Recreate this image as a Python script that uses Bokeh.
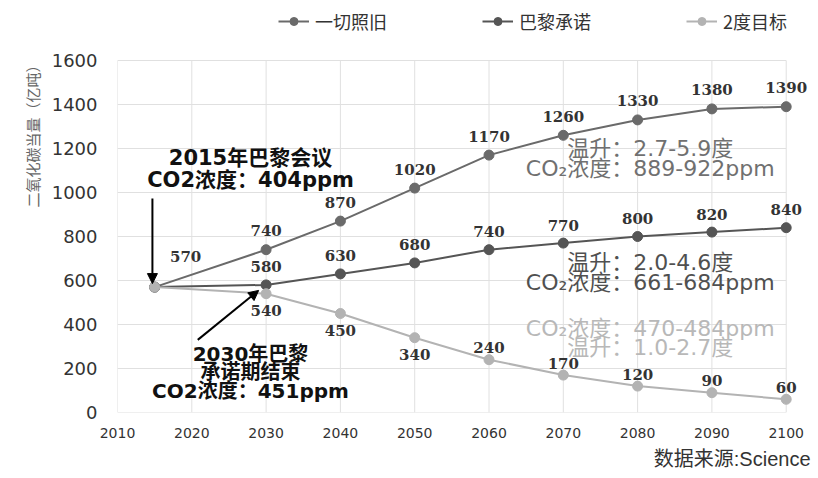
from bokeh.plotting import figure
from bokeh.models import (ColumnDataSource, Range1d, FixedTicker, Legend, LegendItem,
                          Label, Arrow, NormalHead, Title)
from bokeh.core.properties import value
from bokeh.embed import file_html
from bokeh.resources import INLINE

# ---- data ----
years = [2015, 2030, 2040, 2050, 2060, 2070, 2080, 2090, 2100]
bau = [570, 740, 870, 1020, 1170, 1260, 1330, 1380, 1390]      # 一切照旧
paris = [570, 580, 630, 680, 740, 770, 800, 820, 840]          # 巴黎承诺
two_deg = [570, 540, 450, 340, 240, 170, 120, 90, 60]          # 2度目标
series_names = ["一切照旧", "巴黎承诺", "2度目标"]
x_ticks = [2010, 2020, 2030, 2040, 2050, 2060, 2070, 2080, 2090, 2100]
y_ticks = [0, 200, 400, 600, 800, 1000, 1200, 1400, 1600]
y_title = "二氧化碳当量（亿吨）"
source_note = "数据来源:Science"

W, H = 812, 478
ML, MR, MT, MB = 117, 4, 4, 66
FW, FH = W - ML - MR, H - MT - MB
PX_PER_YEAR = 7.43
PX_PER_UNIT = 0.22

p = figure(width=W, height=H, output_backend="svg", toolbar_location=None,
           x_range=Range1d(2010, 2010 + FW / PX_PER_YEAR),
           y_range=Range1d(0, FH / PX_PER_UNIT),
           min_border_left=ML, min_border_right=MR, min_border_top=MT,
           min_border_bottom=MB, background_fill_color="white",
           border_fill_color="white")
p.outline_line_color = None
p.xgrid.visible = False
p.ygrid.visible = False

for ax in (p.xaxis, p.yaxis):
    ax.axis_line_color = None
    ax.major_tick_line_color = None
    ax.minor_tick_line_color = None
    ax.major_label_text_color = "#333333"
    ax.major_label_text_font = "DejaVu Sans"
p.xaxis.ticker = FixedTicker(ticks=x_ticks)
p.yaxis.ticker = FixedTicker(ticks=y_ticks)
p.xaxis.major_label_text_font_size = "14px"
p.yaxis.major_label_text_font_size = "18px"
p.xaxis.major_label_standoff = 9
p.yaxis.major_label_standoff = 14

# grid lines bounded to the chart area
gx0, gx1 = x_ticks[0], x_ticks[-1]
gy0, gy1 = y_ticks[0], y_ticks[-1]
p.segment(x0=x_ticks, y0=[gy0] * len(x_ticks), x1=x_ticks, y1=[gy1] * len(x_ticks),
          line_color="#e0e0e0", line_width=1, level="underlay")
p.segment(x0=[gx0] * len(y_ticks), y0=y_ticks, x1=[gx1] * len(y_ticks), y1=y_ticks,
          line_color="#e0e0e0", line_width=1, level="underlay")

colors = ["#6a6a6a", "#555555", "#b3b3b3"]
all_series = [bau, paris, two_deg]
items = []
for name, vals, c in zip(series_names, all_series, colors):
    src = ColumnDataSource(dict(x=years, y=vals))
    l = p.line("x", "y", source=src, line_color=c, line_width=2)
    s = p.scatter("x", "y", source=src, size=10, fill_color=c, line_color=c)
    items.append(LegendItem(label=name, renderers=[l, s]))

# data labels
lab_font = value("DejaVu Serif")
def add_labels(vals, offsets):
    src = ColumnDataSource(dict(x=years[1:], y=vals[1:],
                                t=[str(v) for v in vals[1:]], dy=offsets))
    p.text("x", "y", text="t", source=src, y_offset="dy", text_font=lab_font,
           text_font_size="15px", text_font_style="bold", text_color="#333333",
           text_align="center", text_baseline="middle")

add_labels(bau, [-19] * 8)
add_labels(paris, [-18] * 8)
add_labels(two_deg, [17 if yr < 2060 else -12 for yr in years[1:]])
p.text(x=[years[0]], y=[bau[0]], text=[str(bau[0])], x_offset=31, y_offset=-31,
       text_font=lab_font, text_font_size="15px", text_font_style="bold",
       text_color="#333333", text_align="center", text_baseline="middle")

# legend in the top strip of the frame (bottom-left corner given, frame-relative)
legend = Legend(items=items, orientation="horizontal", location=(278 - ML, FH - 30),
                glyph_width=31, glyph_height=20, label_standoff=6, label_width=166,
                label_height=20, spacing=1, padding=0, margin=0,
                border_line_color=None, background_fill_alpha=0,
                label_text_font="Noto Sans CJK SC", label_text_font_size="18px",
                label_text_color="#333333")
p.add_layout(legend, "center")

def note(txt, x, y, color, size="21px", bold=False, font="DejaVu Sans, Noto Sans CJK SC"):
    p.add_layout(Label(x=x, y=y, text=txt, text_font=font, text_font_size=size,
                       text_font_style="bold" if bold else "normal", text_color=color,
                       text_align="center", text_baseline="middle"))

note("2015年巴黎会议", 2027.9, 1155, "#111111", bold=True)
note("CO2浓度：404ppm", 2027.9, 1055, "#111111", bold=True)
note("2030年巴黎", 2027.9, 268, "#111111", size="20px", bold=True)
note("承诺期结束", 2027.9, 182, "#111111", size="20px", bold=True)
note("CO2浓度：451ppm", 2027.9, 96, "#111111", size="20px", bold=True)

note("温升：2.7-5.9度", 2081.7, 1200, "#707070", size="22px")
note("CO₂浓度：889-922ppm", 2081.7, 1109, "#707070", size="22px")
note("温升：2.0-4.6度", 2081.7, 682, "#505050", size="22px")
note("CO₂浓度：661-684ppm", 2081.7, 591, "#505050", size="22px")
note("CO₂浓度：470-484ppm", 2081.7, 382, "#b8b8b8", size="22px")
note("温升：1.0-2.7度", 2081.7, 295, "#b8b8b8", size="22px")

p.add_layout(Arrow(x_start=2014.7, y_start=973, x_end=2014.7, y_end=586,
                   line_color="black", line_width=2,
                   end=NormalHead(size=10, fill_color="black", line_color="black")))
p.add_layout(Arrow(x_start=2020.8, y_start=330, x_end=2029.0, y_end=555,
                   line_color="black", line_width=2,
                   end=NormalHead(size=10, fill_color="black", line_color="black")))

# y title on the left, near the top of the axis
p.add_layout(Title(text=y_title, align="right", offset=53, text_font="Noto Sans CJK SC",
                   text_font_size="15px", text_font_style="normal",
                   text_color="#666666", standoff=11), "left")
# source note below the x axis, right aligned
p.add_layout(Title(text=source_note, align="right", offset=-2,
                   text_font="Liberation Sans, Noto Sans CJK SC",
                   text_font_size="20px", text_font_style="normal",
                   text_color="#333333", standoff=10), "below")

open("out.html", "w").write(file_html(p, INLINE))
